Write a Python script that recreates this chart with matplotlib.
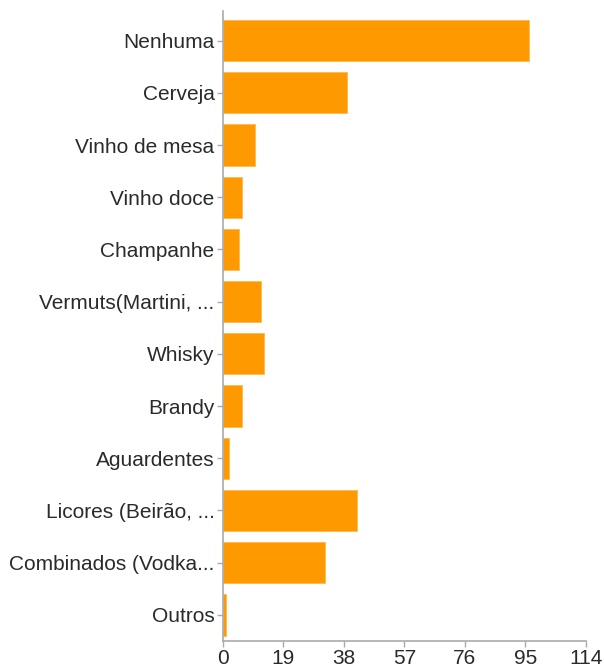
import matplotlib
matplotlib.use('Agg')
import matplotlib.pyplot as plt

# categorias e respostas
categorias = ['Nenhuma', 'Cerveja', 'Vinho de mesa', 'Vinho doce', 'Champanhe',
              'Vermuts(Martini, ...', 'Whisky', 'Brandy', 'Aguardentes',
              'Licores (Beirão, ...', 'Combinados (Vodka...', 'Outros']
respostas = [96, 39, 10, 6, 5, 12, 13, 6, 2, 42, 32, 1]
x_ticks = [0, 19, 38, 57, 76, 95, 114]

plt.rcParams['font.family'] = ['Liberation Sans', 'DejaVu Sans']

fig = plt.figure(figsize=(6.04, 6.68), dpi=100)
ax = fig.add_axes([0.369, 0.0404, 0.601, 0.9426])

pos = list(range(len(categorias)))
ax.barh(pos, respostas, height=0.79, color='#ff9900', edgecolor='#ffb84d', linewidth=0.6)

ax.set_xlim(0, 114)
ax.set_ylim(len(categorias) - 0.5, -0.56)
ax.set_xticks(x_ticks)
ax.set_xticklabels([str(t) for t in x_ticks])
ax.set_yticks(pos)
ax.set_yticklabels(categorias)

for s in ['top', 'right']:
    ax.spines[s].set_visible(False)
for s in ['left', 'bottom']:
    ax.spines[s].set_color('#aaaaaa')
    ax.spines[s].set_linewidth(1.2)

ax.tick_params(axis='both', colors='#aaaaaa', labelcolor='#2a2a2a', labelsize=15,
               length=4, width=1)
ax.tick_params(axis='y', pad=2)
ax.tick_params(axis='x', pad=2)

fig.savefig('out.png', dpi=100)
